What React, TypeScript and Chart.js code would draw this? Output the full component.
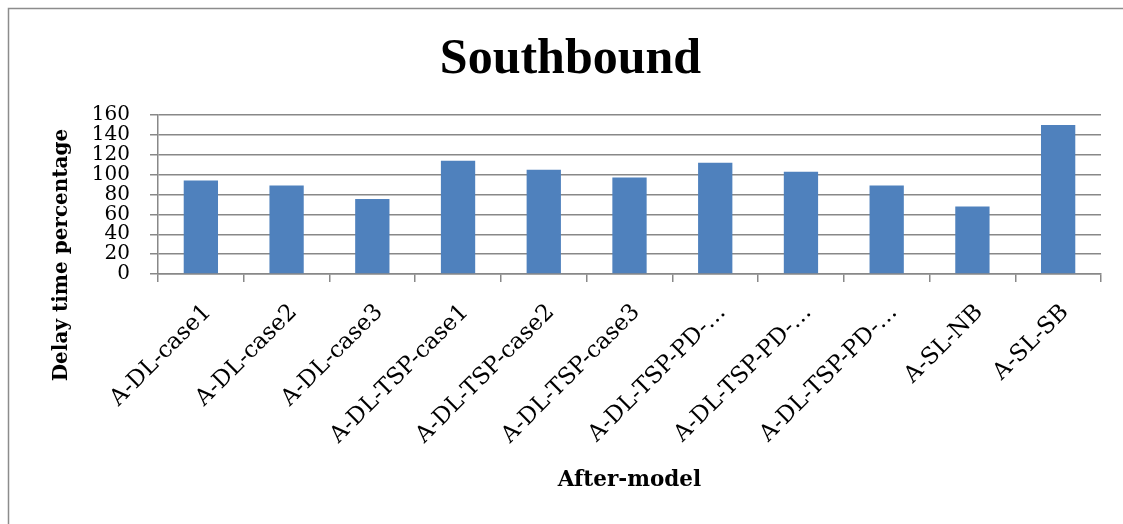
import React, { useEffect, useRef } from "react";
import { Chart, registerables } from "chart.js";

Chart.register(...registerables);

// Categories (as printed on the axis) and their delay-time percentages
const categories: string[] = [
  "A-DL-case1",
  "A-DL-case2",
  "A-DL-case3",
  "A-DL-TSP-case1",
  "A-DL-TSP-case2",
  "A-DL-TSP-case3",
  "A-DL-TSP-PD-…",
  "A-DL-TSP-PD-…",
  "A-DL-TSP-PD-…",
  "A-SL-NB",
  "A-SL-SB",
];
const delayPercent: number[] = [94, 89, 75.5, 114, 105, 97, 112, 103, 89, 68, 150];

const yTickMin = 0;
const yTickMax = 160;
const yTickStep = 20;

const titleText = "Southbound";
const yTitleText = "Delay time percentage";
const xTitleText = "After-model";

const W = 1123;
const H = 524;

// Light grey frame along the top and left edges of the chart box
const framePlugin = {
  id: "frame",
  beforeDraw(chart: Chart) {
    const ctx = chart.ctx;
    ctx.save();
    ctx.fillStyle = "#ffffff";
    ctx.fillRect(0, 0, chart.width, chart.height);
    ctx.strokeStyle = "#8c8c8c";
    ctx.lineWidth = 1.5;
    ctx.beginPath();
    ctx.moveTo(8.5, chart.height);
    ctx.lineTo(8.5, 8.5);
    ctx.lineTo(chart.width, 8.5);
    ctx.stroke();
    ctx.restore();
  },
};

// Vertical value-axis title, centred a little below the plot
const yTitlePlugin = {
  id: "yTitle",
  afterDraw(chart: Chart) {
    const ctx = chart.ctx;
    ctx.save();
    ctx.translate(62, 255);
    ctx.rotate(-Math.PI / 2);
    ctx.font = "bold 20px 'DejaVu Serif', serif";
    ctx.fillStyle = "#000000";
    ctx.textAlign = "center";
    ctx.textBaseline = "middle";
    ctx.fillText(yTitleText, 0, 0);
    ctx.restore();
  },
};

export default function App() {
  const canvasRef = useRef<HTMLCanvasElement | null>(null);

  useEffect(() => {
    if (!canvasRef.current) return;
    const gridColor = "#888888";

    const chart = new Chart(canvasRef.current, {
      type: "bar",
      data: {
        labels: categories,
        datasets: [
          {
            data: delayPercent,
            backgroundColor: "#4F81BD",
            borderWidth: 0,
            barPercentage: 0.8,
            categoryPercentage: 0.5,
          },
        ],
      },
      plugins: [framePlugin, yTitlePlugin],
      options: {
        responsive: false,
        animation: false,
        devicePixelRatio: 1,
        layout: { padding: { left: 40, right: 22, top: 0, bottom: 31 } },
        plugins: {
          legend: { display: false },
          tooltip: { enabled: false },
          title: {
            display: true,
            text: titleText,
            color: "#000000",
            font: { family: "'Liberation Serif', serif", size: 50, weight: "bold" },
            padding: { top: 30, bottom: 25 },
          },
        },
        scales: {
          x: {
            type: "category",
            offset: true,
            grid: {
              offset: true,
              drawOnChartArea: false,
              drawTicks: true,
              tickLength: 8,
              color: gridColor,
              lineWidth: 1.5,
            },
            border: { display: true, color: gridColor, width: 1.5 },
            ticks: {
              autoSkip: false,
              minRotation: 45,
              maxRotation: 45,
              padding: 17,
              labelOffset: 7,
              color: "#000000",
              font: { family: "'DejaVu Serif', serif", size: 23 },
            },
            title: {
              display: true,
              text: xTitleText,
              color: "#000000",
              font: { family: "'DejaVu Serif', serif", size: 21.5, weight: "bold" },
              padding: { top: 0, bottom: 0 },
            },
            afterFit(scale: any) {
              scale.height = 219;
            },
          },
          y: {
            min: yTickMin,
            max: yTickMax,
            grid: {
              color: gridColor,
              lineWidth: 1.5,
              drawTicks: true,
              tickLength: 8,
            },
            border: { display: true, color: gridColor, width: 1.5 },
            ticks: {
              autoSkip: false,
              stepSize: yTickStep,
              padding: 20,
              color: "#000000",
              font: { family: "'DejaVu Serif', serif", size: 20 },
            },
            afterFit(scale: any) {
              scale.width = 118;
            },
          },
        },
      },
    });
    return () => chart.destroy();
  }, []);

  return (
    <div style={{ position: "absolute", left: 0, top: 0, width: W, height: H, background: "#fff" }}>
      <canvas ref={canvasRef} width={W} height={H} style={{ width: W, height: H, display: "block" }} />
    </div>
  );
}
